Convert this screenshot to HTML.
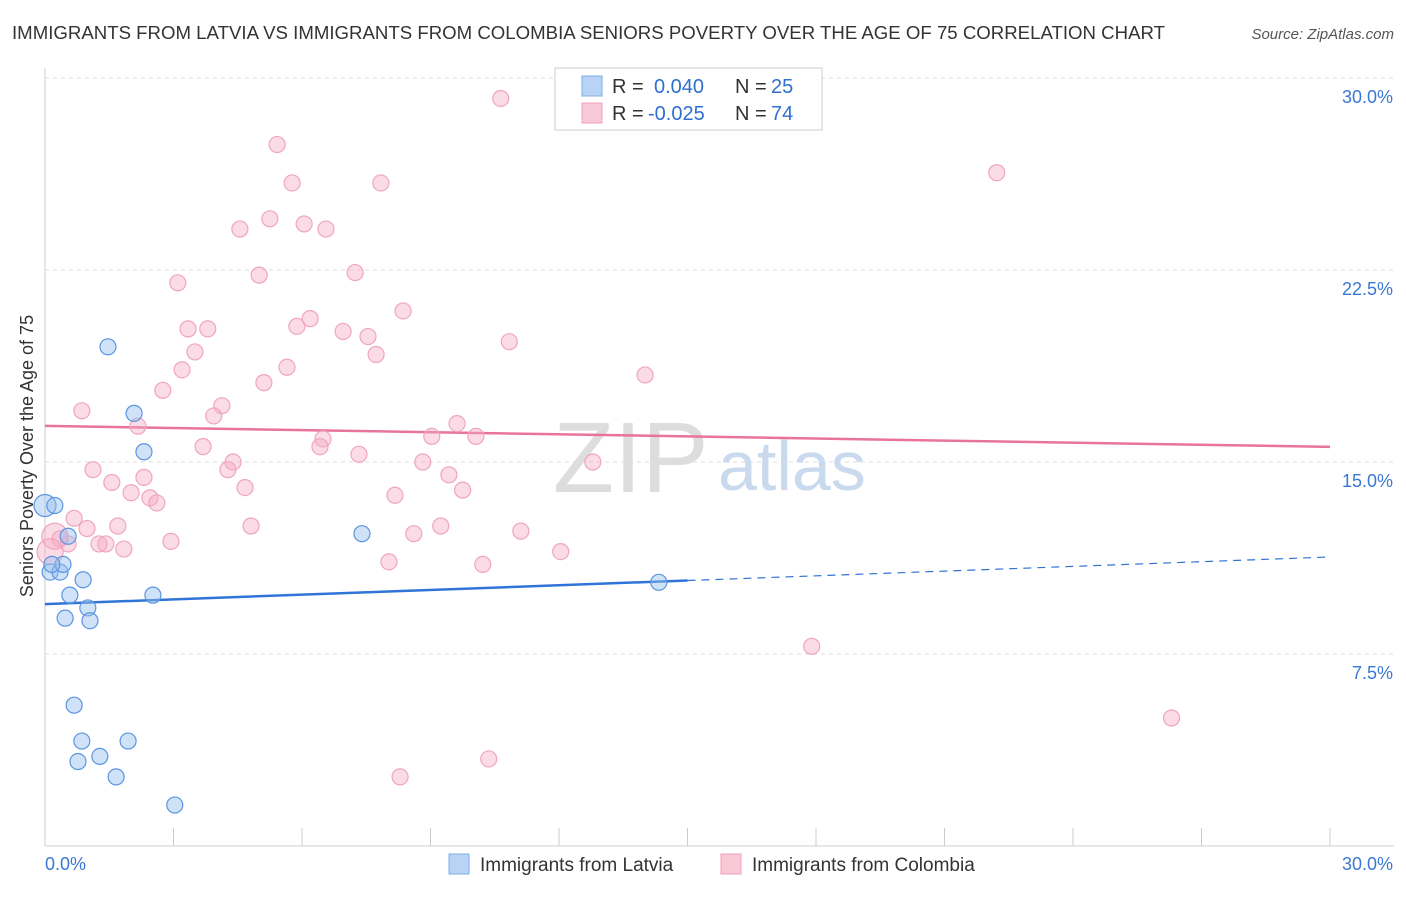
<!DOCTYPE html>
<html><head><meta charset="utf-8">
<style>
body{margin:0;background:#fff;font-family:"Liberation Sans",sans-serif;}
svg text{font-family:"Liberation Sans",sans-serif;}
</style></head>
<body>
<svg width="1406" height="892" viewBox="0 0 1406 892" xmlns="http://www.w3.org/2000/svg">
<text x="12" y="39" font-size="18" fill="#333" textLength="1153" lengthAdjust="spacingAndGlyphs">IMMIGRANTS FROM LATVIA VS IMMIGRANTS FROM COLOMBIA SENIORS POVERTY OVER THE AGE OF 75 CORRELATION CHART</text>
<text x="1394" y="39" font-size="15" fill="#555" text-anchor="end" font-style="italic">Source: ZipAtlas.com</text>
<text x="33" y="456" font-size="18" fill="#333" text-anchor="middle" transform="rotate(-90 33 456)">Seniors Poverty Over the Age of 75</text>
<g id="grid"></g>
<g id="axes"></g>
<text x="553" y="492" font-size="100" fill="#ddd" font-family="Liberation Serif">ZIP</text>
<text x="718" y="490" font-size="70" fill="#c9d9ee">atlas</text>
<g id="trend"></g>
<g id="pts"></g>
<g>
<rect x="555" y="68" width="267" height="62" fill="#fff" stroke="#ccc"/>
<rect x="582" y="76" width="20" height="20" fill="#b8d3f5" stroke="#7eaee8"/>
<rect x="582" y="103" width="20" height="20" fill="#f9c9d8" stroke="#f0a0b8"/>
<text x="612" y="93" font-size="20" fill="#333">R =</text>
<text x="654" y="93" font-size="20" fill="#2f6fd0">0.040</text>
<text x="735" y="93" font-size="20" fill="#333">N =</text>
<text x="771" y="93" font-size="20" fill="#2f6fd0">25</text>
<text x="612" y="120" font-size="20" fill="#333">R =</text>
<text x="648" y="120" font-size="20" fill="#2f6fd0">-0.025</text>
<text x="735" y="120" font-size="20" fill="#333">N =</text>
<text x="771" y="120" font-size="20" fill="#2f6fd0">74</text>
</g>
<g>
<rect x="449" y="854" width="20" height="20" fill="#b8d3f5" stroke="#7eaee8"/>
<text x="480" y="871" font-size="19" fill="#333">Immigrants from Latvia</text>
<rect x="721" y="854" width="20" height="20" fill="#f9c9d8" stroke="#f0a0b8"/>
<text x="752" y="871" font-size="19" fill="#333">Immigrants from Colombia</text>
</g>
</svg>
<script>
const yTicks=[7.5,15,22.5,30];
const yTickLabels=["7.5%","15.0%","22.5%","30.0%"];
const xTickLabels=["0.0%","30.0%"];
const latviaX=[0,0.23,0.12,0.35,0.42,0.54,0.89,0.58,1.00,0.47,1.05,1.47,2.08,2.31,2.52,0.68,0.86,0.77,1.28,1.94,1.66,3.03,7.40,14.33,0.16];
const latviaY=[13.3,13.3,10.7,10.7,11.0,12.1,10.4,9.8,9.3,8.9,8.8,19.5,16.9,15.4,9.8,5.5,4.1,3.3,3.5,4.1,2.7,1.6,12.2,10.3,11.0];
const colX=[10.64,5.42,5.77,7.84,22.22,5.25,6.05,6.56,4.55,5.00,7.24,3.10,8.36,5.88,6.19,3.34,3.80,6.96,7.54,10.84,3.50,7.73,5.65,3.20,5.11,14.01,2.75,0.86,4.13,3.94,9.62,2.17,9.03,10.06,6.49,6.42,3.69,7.33,4.39,12.79,8.82,1.12,4.27,2.31,9.43,1.56,4.67,9.75,2.01,8.17,2.45,2.61,0.68,4.81,1.70,0.98,9.24,11.11,8.61,0.35,0.54,1.26,1.42,1.84,2.94,12.04,8.03,10.22,17.90,26.30,10.36,8.29,0.23,0.12];
const colY=[29.2,27.4,25.9,25.9,26.3,24.5,24.3,24.1,24.1,22.3,22.4,22.0,20.9,20.3,20.6,20.2,20.2,20.1,19.9,19.7,19.3,19.2,18.7,18.6,18.1,18.4,17.8,17.0,17.2,16.8,16.5,16.4,16.0,16.0,15.9,15.6,15.6,15.3,15.0,15.0,15.0,14.7,14.7,14.4,14.5,14.2,14.0,13.9,13.8,13.7,13.6,13.4,12.8,12.5,12.5,12.4,12.5,12.3,12.2,12.0,11.8,11.8,11.8,11.6,11.9,11.5,11.1,11.0,7.8,5.0,3.4,2.7,12.1,11.5];
const latviaTrend=[9.45,11.29];
const colTrend=[16.41,15.59];
const NS="http://www.w3.org/2000/svg";
const X0=45,X1=1330,Y0=846,YT=78;
const sx=v=>X0+v/30*(X1-X0);
const sy=v=>Y0-v/30*(Y0-YT);
function mk(tag,attrs,parent){const e=document.createElementNS(NS,tag);for(const k in attrs)e.setAttribute(k,attrs[k]);parent.appendChild(e);return e;}
const grid=document.getElementById('grid'),axes=document.getElementById('axes');
yTicks.forEach((t,i)=>{
 const l=mk('line',{x1:X0,x2:1394,y1:sy(t),y2:sy(t),stroke:'#ddd','stroke-dasharray':'4,4'},grid);
 
 
 const tx=mk('text',{x:1393,y:sy(t)+25,'font-size':18,fill:'#3a78d4','text-anchor':'end'},axes);
 tx.textContent=yTickLabels[i];
 
 
});
mk('line',{x1:X0,x2:X0,y1:68,y2:Y0,stroke:'#ccc'},axes);
mk('line',{x1:X0,x2:1394,y1:Y0,y2:Y0,stroke:'#ccc'},axes);
for(let i=0;i<=10;i++){const x=X0+i*(X1-X0)/10;const t=mk('line',{x1:x,x2:x,y1:Y0,y2:Y0-18,stroke:'#ccc'},axes);}
const xl0=mk('text',{x:45,y:870,'font-size':18,fill:'#3a78d4'},axes);xl0.textContent=xTickLabels[0];


const xl1=mk('text',{x:1393,y:870,'font-size':18,fill:'#3a78d4','text-anchor':'end'},axes);xl1.textContent=xTickLabels[1];


const pts=document.getElementById('pts');
colX.forEach((v,i)=>{const c=mk('circle',{cx:sx(v),cy:sy(colY[i]),r:(i>=72?13:8),fill:'rgba(246,170,195,0.42)',stroke:'#f0a5bd','stroke-width':1.2},pts);
 
 });
latviaX.forEach((v,i)=>{const c=mk('circle',{cx:sx(v),cy:sy(latviaY[i]),r:(i==0?11:8),fill:'rgba(150,190,240,0.45)',stroke:'#5b95e0','stroke-width':1.2},pts);
 
 });
const tr=document.getElementById('trend');
const ly=x=>latviaTrend[0]+(latviaTrend[1]-latviaTrend[0])*x/30;
const t1=mk('line',{x1:sx(0),y1:sy(ly(0)),x2:sx(15),y2:sy(ly(15)),stroke:'#2f74d6','stroke-width':2.5},tr);


const t2=mk('line',{x1:sx(15),y1:sy(ly(15)),x2:sx(30),y2:sy(ly(30)),stroke:'#2f74d6','stroke-width':1.2,'stroke-dasharray':'8,6'},tr);


const t3=mk('line',{x1:sx(0),y1:sy(colTrend[0]),x2:sx(30),y2:sy(colTrend[1]),stroke:'#e8739b','stroke-width':2.5},tr);


</script>
</body></html>
